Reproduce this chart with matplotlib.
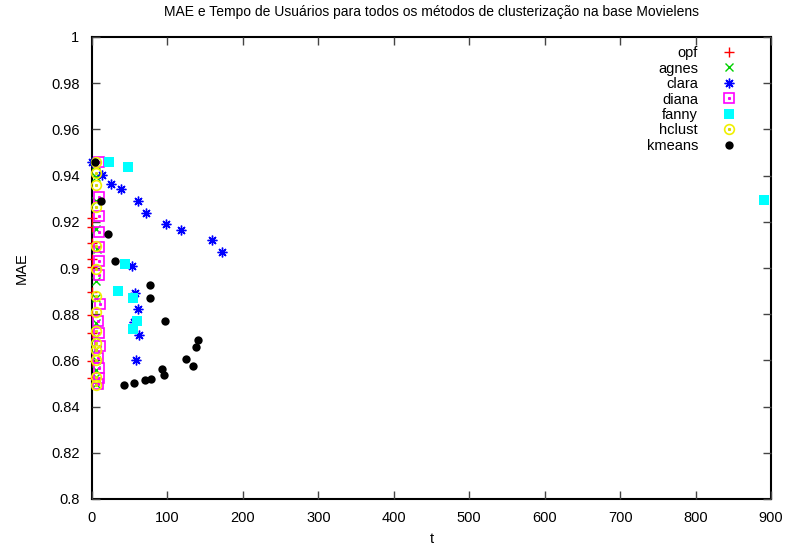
"""
MAE x tempo dos metodos de clusterizacao (Movielens)
"""

import matplotlib
matplotlib.use("Agg")
import matplotlib.pyplot as plt

plt.rcParams["font.family"] = ["Liberation Sans", "DejaVu Sans"]
plt.rcParams["font.size"] = 10

# opf
opf_t = [0.3, 0.5, 0.4, 0.6, 0.3, 0.5, 0.4, 0.6, 0.3, 0.5]
opf_mae = [0.9215, 0.9176, 0.9110, 0.9038, 0.9003, 0.8897, 0.8797, 0.8717, 0.8599, 0.8522]

# agnes
agnes_t = [5.5, 5.7, 5.7, 5.0, 6.5, 5.8, 5.8, 5.5, 5.6, 5.4, 5.8, 5.5, 5.6, 5.3]
agnes_mae = [0.9445, 0.9393, 0.9290, 0.9169, 0.9081, 0.8945, 0.8869, 0.8763,
             0.8700, 0.8650, 0.8600, 0.8560, 0.8530, 0.8500]

# clara
clara_t = [0, 13.3, 24.7, 38.8, 61, 72, 98, 118, 158.6, 172.7, 52.6, 57, 61, 56, 62.3, 58.3]
clara_mae = [0.9458, 0.9401, 0.9364, 0.9341, 0.9291, 0.9238, 0.9192, 0.9163,
             0.9121, 0.9068, 0.9009, 0.8890, 0.8824, 0.8766, 0.8710, 0.8603]

# diana
diana_t = [8.8, 9.0, 9.0, 9.0, 9.0, 9.0, 9.7, 10.7, 8.3, 9.3, 10.3, 7.7, 9.3, 9.0, 8.3]
diana_mae = [0.9459, 0.9307, 0.9225, 0.9156, 0.9090, 0.9030, 0.8968, 0.8846,
             0.8769, 0.8717, 0.8662, 0.8612, 0.8566, 0.8525, 0.8496]

# fanny
fanny_t = [23, 48, 44, 35, 55, 60, 55, 891]
fanny_mae = [0.9458, 0.9437, 0.9016, 0.8899, 0.8868, 0.8771, 0.8735, 0.9293]

# hclust
hclust_t = [5.3, 5.3, 5.3, 5.3, 5.5, 5.3, 5.3, 5.3, 5.5, 5.3, 5.3, 5.3, 5.3, 5.3]
hclust_mae = [0.9460, 0.9413, 0.9358, 0.9264, 0.9095, 0.8994, 0.8877, 0.8808,
              0.8729, 0.8674, 0.8645, 0.8602, 0.8529, 0.8494]

# kmeans
kmeans_t = [3.5, 12.4, 21.6, 31, 76.4, 77.3, 96.3, 141, 138, 124, 133.4, 93.2, 95, 42.4, 55.7, 69.8, 77.8]
kmeans_mae = [0.9460, 0.9289, 0.9146, 0.9032, 0.8928, 0.8869, 0.8772, 0.8687,
              0.8657, 0.8608, 0.8574, 0.8561, 0.8538, 0.8494, 0.8504, 0.8514, 0.8518]

fig = plt.figure(figsize=(7.89, 5.46), dpi=100)
ax = fig.add_axes([92 / 789, 1 - 499 / 546, (771 - 92) / 789, (499 - 37) / 546])

kw = dict(linestyle="none", clip_on=False)
h_opf, = ax.plot(opf_t, opf_mae, marker="+", color="red", ms=7, mew=1, **kw)
h_agnes, = ax.plot(agnes_t, agnes_mae, marker="x", color="#00d000", ms=5.5, mew=1, **kw)
h_clara, = ax.plot(clara_t, clara_mae, marker=(8, 2, 0), color="blue", ms=7, mew=1, **kw)
h_diana, = ax.plot(diana_t, diana_mae, marker="s", mfc="none", mec="#ff00ff", ms=7, mew=1.2, **kw)
h_diana_dot, = ax.plot(diana_t, diana_mae, marker="s", color="#ff00ff", ms=1.2, **kw)
h_fanny, = ax.plot(fanny_t, fanny_mae, marker="s", color="cyan", ms=6.5, mew=0, **kw)
h_hclust, = ax.plot(hclust_t, hclust_mae, marker="o", mfc="none", mec="#f0f000", ms=7, mew=1.2, **kw)
h_hclust_dot, = ax.plot(hclust_t, hclust_mae, marker="s", color="#d8d800", ms=1.2, **kw)
h_kmeans, = ax.plot(kmeans_t, kmeans_mae, marker="o", color="black", ms=6, mew=0, **kw)

ax.set_xlim(0, 900)
ax.set_ylim(0.8, 1.0)
ax.set_xticks(range(0, 901, 100))
ax.set_yticks([0.8, 0.82, 0.84, 0.86, 0.88, 0.9, 0.92, 0.94, 0.96, 0.98, 1.0])
ax.set_yticklabels(["0.8", "0.82", "0.84", "0.86", "0.88", "0.9", "0.92",
                    "0.94", "0.96", "0.98", "1"])
ax.tick_params(direction="in", length=6, width=1, color="#444444",
               top=True, right=True, labelsize=10.5)
ax.tick_params(axis="y", pad=9)
ax.tick_params(axis="x", pad=9)
for s in ax.spines.values():
    s.set_linewidth(1.5)
    s.set_zorder(0)

ax.set_title("MAE e Tempo de Usuários para todos os métodos de clusterização na base Movielens",
             fontsize=10, pad=15)
ax.set_xlabel("t", fontsize=10.5, labelpad=5)
ax.set_ylabel("MAE", fontsize=10.5, labelpad=16)

leg = ax.legend([h_opf, h_agnes, h_clara, (h_diana, h_diana_dot), h_fanny,
                 (h_hclust, h_hclust_dot), h_kmeans],
                ["opf", "agnes", "clara", "diana", "fanny", "hclust", "kmeans"],
                loc="upper right", bbox_to_anchor=(1 - 22 / 679, 1 + 4 / 462),
                markerfirst=False, frameon=False, numpoints=1, handlelength=1.0,
                handletextpad=1.6, labelspacing=0.1, fontsize=10.5,
                borderaxespad=0.5)

fig.savefig("out.png", dpi=100)
